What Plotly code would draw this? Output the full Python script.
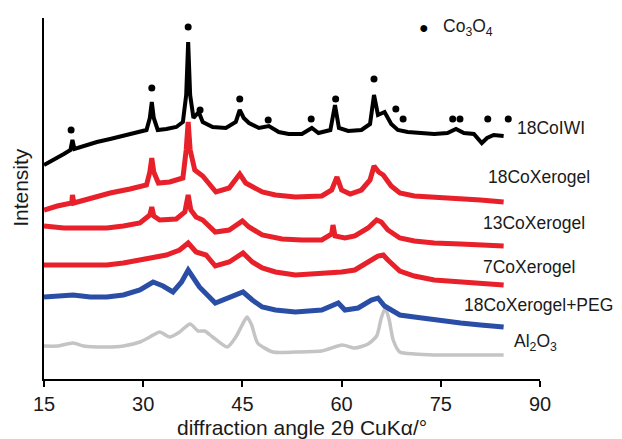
import plotly.graph_objects as go

# ---------------- data (2θ in degrees, intensity in arbitrary stacked units) ----------------
iwi_x = [15.0, 16.5, 18.0, 19.0, 19.3, 19.6, 21, 23, 25, 27, 29, 30.5, 31.0, 31.3, 31.6, 32.2, 33.5, 35.0,
         36.0, 36.5, 36.8, 37.1, 37.6, 38.4, 39.0, 40.5, 42.5, 44.0, 44.6, 45.2, 46, 47.5, 49.0, 50.5, 52,
         54, 55.5, 56.5, 58.3, 59.0, 59.6, 61, 63, 64.3, 64.9, 65.5, 66.5, 67.5, 68.5, 70, 72, 74, 76,
         77.3, 78.5, 80, 81.2, 82, 83, 84.5]
iwi_y = [214, 219, 225, 229, 239, 230, 233, 237, 240, 243, 246, 249, 261, 277, 261, 249, 250, 252,
         257, 284, 337, 284, 261, 267, 257, 252, 251, 257, 269, 261, 256, 251, 253, 247, 245,
         245, 251, 246, 249, 274, 251, 248, 249, 255, 284, 264, 267, 255, 249, 247, 246, 245, 246,
         250, 246, 245, 236, 241, 244, 243]

x18_x = [15, 17, 19.2, 19.3, 19.5, 22, 25, 28, 30.5, 31.0, 31.3, 31.6, 32.3, 34, 36, 36.5, 36.8, 37.1,
         37.8, 39, 41, 43, 44.6, 45.5, 48, 50, 53, 57, 58.5, 59.3, 60, 61.3, 63, 64.3, 64.9, 65.6, 66.3,
         67.5, 68.8, 71, 74, 78, 81, 84.5]
x18_y = [169, 173, 176, 184, 176, 181, 186, 190, 194, 207, 221, 207, 196, 197, 201, 229, 257, 229,
         209, 203, 187, 191, 205, 196, 187, 184, 182, 183, 189, 202, 189, 185, 189, 199, 213, 207, 204,
         193, 186, 183, 182, 180, 179, 177]

x13_x = [15, 18, 21, 24.5, 27, 29.5, 31.0, 31.3, 31.6, 32.5, 35, 36.3, 36.8, 37.2, 38, 39, 40.9, 43,
         45.0, 46, 48, 51, 54, 57, 58.5, 58.7, 59.0, 60.5, 62, 64, 65.3, 66, 67, 68.8, 71, 74, 78, 81, 84.5]
x13_y = [153, 151, 151, 151, 153, 156, 164, 172, 163, 159, 160, 167, 184, 169, 162, 159, 147, 149,
         158, 152, 144, 140, 139, 139, 145, 154, 143, 141, 143, 151, 159, 157, 149, 141, 138, 136, 135, 134, 133]

x7_x = [15, 18, 21, 24.5, 27, 29.5, 33.5, 35.5, 36.8, 38, 39.5, 40.9, 43, 45.1, 46.5, 48, 50, 53, 57,
        60, 62, 64, 65.5, 66.3, 67, 68.8, 71, 74, 78, 81, 84.5]
x7_y = [114, 114, 114, 114, 116, 119, 124, 129, 136, 127, 124, 113, 117, 126, 117, 111, 107, 104, 105,
        107, 109, 117, 123, 124, 119, 108, 103, 99, 97, 95, 94]

peg_x = [15, 17, 19.4, 22, 24.5, 27, 29.5, 31.5, 33, 34.5, 35.8, 36.8, 37.5, 38.5, 40.9, 43, 45.1, 46.5,
         48, 50, 53, 57, 59.5, 60.5, 62.5, 64.5, 65.5, 66.5, 68.8, 71, 74, 78, 81, 84.5]
peg_y = [82, 83, 84, 82, 82, 84, 89, 97, 93, 87, 97, 109, 101, 92, 76, 81, 87, 79,
         72, 69, 67, 69, 76, 69, 71, 79, 81, 73, 64, 62, 59, 56, 54, 52]

al_x = [15, 17, 19.4, 21, 24.5, 27, 29.5, 31, 32.5, 34, 35.5, 37.1, 38.3, 39.3, 40.5, 42.7, 44, 45.2,
        45.7, 46.4, 47.3, 49.6, 53, 57, 60.1, 62, 64, 65.3, 66.0, 66.6, 67.2, 67.8, 68.8, 71, 74, 78, 84.5]
al_y = [33, 33, 36, 33, 32, 33, 37, 42, 47, 42, 47, 55, 48, 48, 42, 32, 42, 57,
        62, 54, 36, 27, 27, 28, 34, 31, 35, 43, 61, 71, 59, 39, 27, 25, 24, 24, 24]

co_x = [19.1, 31.3, 36.8, 38.6, 44.6, 48.9, 55.4, 59.1, 64.9, 68.2, 69.3, 76.8, 77.9, 82.1, 85.2]
co_y = [249, 291, 352, 269, 280, 259, 260, 280, 300, 270, 260, 260, 260, 260, 260]

x_ticks = [15, 30, 45, 60, 75, 90]

labels = ["18CoIWI", "18CoXerogel", "13CoXerogel", "7CoXerogel", "18CoXerogel+PEG",
          "Al<sub>2</sub>O<sub>3</sub>"]

# ---------------- figure ----------------
FONT = "Liberation Sans, Arial, sans-serif"
RED = "#e8202a"
TXT = "#1a1a1a"

fig = go.Figure()
fig.add_trace(go.Scatter(x=al_x, y=al_y, mode="lines", line=dict(color="#c4c4c4", width=3.5, shape="spline", smoothing=0.6)))
fig.add_trace(go.Scatter(x=peg_x, y=peg_y, mode="lines", line=dict(color="#2a4ea6", width=5)))
fig.add_trace(go.Scatter(x=x7_x, y=x7_y, mode="lines", line=dict(color=RED, width=5)))
fig.add_trace(go.Scatter(x=x13_x, y=x13_y, mode="lines", line=dict(color=RED, width=5)))
fig.add_trace(go.Scatter(x=x18_x, y=x18_y, mode="lines", line=dict(color=RED, width=5)))
fig.add_trace(go.Scatter(x=iwi_x, y=iwi_y, mode="lines", line=dict(color="black", width=4)))
fig.add_trace(go.Scatter(x=co_x, y=co_y, mode="markers", cliponaxis=False,
                         marker=dict(color="black", size=7, symbol="circle")))

# series labels at the right (paper x, data y)
label_pos = [(1.022, 251), (0.998, 202), (0.988, 156), (0.978, 112), (0.996, 74), (0.990, 37)]
for text, (lx, ly) in zip(labels, label_pos):
    fig.add_annotation(x=lx, y=ly, xref="paper", yref="y", text=text, showarrow=False,
                       xanchor="center", yanchor="middle",
                       font=dict(family=FONT, size=17.5, color=TXT))

# Co3O4 legend
fig.add_annotation(x=0.780, y=352, xref="paper", yref="y", text="●", showarrow=False,
                   font=dict(family=FONT, size=16, color="black"))
fig.add_annotation(x=0.800, y=352, xref="paper", yref="y", text="Co<sub>3</sub>O<sub>4</sub>",
                   showarrow=False, xanchor="left", font=dict(family=FONT, size=17.5, color=TXT))

# axis titles
fig.add_annotation(x=0.52, y=-0.133, xref="paper", yref="paper", text="diffraction angle 2θ CuKα/°",
                   showarrow=False, xanchor="center", yanchor="middle",
                   font=dict(family=FONT, size=21, color=TXT))
fig.add_annotation(x=-0.048, y=0.53, xref="paper", yref="paper", text="Intensity", textangle=-90,
                   showarrow=False, xanchor="center", yanchor="middle",
                   font=dict(family=FONT, size=21, color=TXT))

fig.update_layout(
    width=622, height=439,
    margin=dict(l=44, r=82, t=18, b=60, autoexpand=False),
    paper_bgcolor="white", plot_bgcolor="white",
    showlegend=False,
    font=dict(family=FONT, color=TXT),
)
fig.update_xaxes(range=[15, 90], tickvals=x_ticks, ticks="outside", ticklen=6, tickwidth=1.5,
                 tickcolor="black", showline=True, linecolor="black", linewidth=2, showgrid=False,
                 zeroline=False, automargin=False, tickfont=dict(size=20, family=FONT, color=TXT))
fig.update_yaxes(range=[0, 361], showline=True, linecolor="black", linewidth=2, showgrid=False,
                 zeroline=False, showticklabels=False, ticks="", automargin=False)

fig.write_html("out.html", config={"displayModeBar": False},
               post_script="document.body.style.margin='0';document.body.style.overflow='hidden';")
